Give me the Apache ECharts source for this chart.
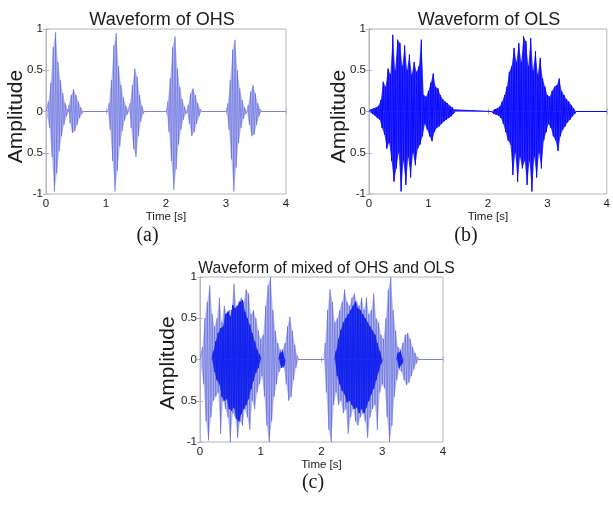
<!DOCTYPE html>
<html>
<head>
<meta charset="utf-8">
<script src="https://cdn.jsdelivr.net/npm/echarts@6/dist/echarts.min.js"></script>
<style>
  html, body { margin: 0; padding: 0; background: #fff; }
  #chart { width: 613px; height: 505px; }
</style>
</head>
<body>
<div id="chart"></div>
<script>
// sample step of the typed waveforms (s)
const DT = 0.02;
const xTicks = [0, 1, 2, 3, 4];
const yTicks = [-1, -0.5, 0, 0.5, 1];

// (a) heart sound, S1 / S2 bursts
const ohsStarts = [0.02, 0.36, 1.03, 1.38, 2.01, 2.35, 3.01, 3.35];
const ohsS1a = [0, 0.12, -0.2, 0.35, -0.55, 0.78, -0.97, 0.96, -0.75, 0.6, -0.48, 0.38, -0.3, 0.22, -0.16, 0.1, -0.06, 0.03, 0];
const ohsS2a = [0, 0.08, -0.14, 0.2, -0.26, 0.27, -0.24, 0.2, -0.16, 0.12, -0.08, 0.05, -0.03, 0];
const ohsS1b = [0, 0.1, -0.22, 0.38, -0.6, 0.8, -0.97, 0.95, -0.72, 0.55, -0.42, 0.32, -0.24, 0.17, -0.11, 0.07, -0.04, 0.02, 0];
const ohsS2b = [0, 0.1, -0.2, 0.32, -0.45, 0.52, -0.55, 0.42, -0.3, 0.2, -0.12, 0.07, -0.03, 0];
const ohsS1c = [0, 0.12, -0.25, 0.4, -0.6, 0.78, -0.95, 0.91, -0.7, 0.52, -0.4, 0.3, -0.22, 0.15, -0.1, 0.06, -0.03, 0];
const ohsS2c = [0, 0.08, -0.15, 0.22, -0.3, 0.28, -0.25, 0.2, -0.15, 0.1, -0.06, 0.03, 0];
const ohsS1d = [0, 0.1, -0.22, 0.38, -0.58, 0.75, -0.97, 0.87, -0.68, 0.5, -0.38, 0.28, -0.2, 0.14, -0.09, 0.05, -0.03, 0];
const ohsS2d = [0, 0.08, -0.16, 0.24, -0.3, 0.32, -0.28, 0.22, -0.16, 0.1, -0.06, 0.03, 0];

// (b) lung sound, two breaths
const olsStarts = [0.02, 2.06];
const olsBreath1 = [0, 0.03, -0.03, 0.04, -0.05, 0.05, -0.08, 0.07, -0.1, 0.14, -0.2, 0.36, -0.28, 0.3, -0.45, 0.52,
  -0.38, 0.45, -0.6, 0.93, -0.85, 0.5, -0.69, 0.87, -0.5, 0.83, -0.97, 0.55, -0.6, 0.8, -0.89, 0.5, -0.55, 0.69,
  -0.8, 0.45, -0.5, 0.6, -0.65, 0.48, -0.45, 0.55, -0.4, 0.87, -0.3, 0.2, -0.15, 0.18, -0.22, 0.25, -0.3, 0.35,
  -0.36, 0.46, -0.25, 0.3, -0.2, 0.28, -0.18, 0.2, -0.15, 0.15, -0.12, 0.12, -0.1, 0.1, -0.08, 0.07, -0.06, 0.05,
  -0.03, 0.02, 0];
const olsBreath2 = [0, 0.02, -0.03, 0.03, -0.04, 0.04, -0.05, 0.06, -0.08, 0.12, -0.15, 0.2, -0.25, 0.3, -0.35, 0.48,
  -0.4, 0.55, -0.77, 0.77, -0.5, 0.6, -0.85, 0.83, -0.55, 0.6, -0.69, 0.91, -0.6, 0.85, -0.89, 0.55, -0.6, 0.89,
  -0.97, 0.5, -0.55, 0.73, -0.8, 0.45, -0.5, 0.65, -0.69, 0.4, -0.35, 0.3, -0.25, 0.2, -0.15, 0.18, -0.2, 0.25,
  -0.3, 0.3, -0.35, 0.32, -0.48, 0.4, -0.3, 0.25, -0.22, 0.2, -0.18, 0.15, -0.13, 0.12, -0.1, 0.08, -0.06, 0.04,
  -0.03, 0];

// (c) mixed signal: full trace and its dense lung core
const mixStarts = [0.02, 2.04];
const mixPart1 = [0, 0.15, -0.3, 0.5, -0.75, 0.7, -0.98, 0.9, -0.7, 0.55, -0.5, 0.4, -0.45, 0.5, -0.4, 0.75, -0.9,
  0.45, -0.5, 0.65, -0.6, 0.55, -0.7, 0.6, -1.0, 0.6, -0.65, 0.92, -0.7, 0.65, -0.95, 0.7, -0.75, 0.75, -0.8, 0.7,
  -0.6, 0.85, -0.7, 0.8, -0.85, 0.55, -0.5, 0.6, -0.6, 0.5, -0.4, 0.35, -0.3, 0.25, -0.2, 0.3, -0.45, 0.65, -0.8,
  0.9, -1.0, 1.0, -0.75, 0.6, -0.45, 0.35, -0.3, 0.2, -0.15, 0.12, -0.1, 0.12, -0.1, 0.2, -0.3, 0.4, -0.5, 0.52,
  -0.45, 0.35, -0.25, 0.18, -0.1, 0.05, 0];
const mixPart2 = [0, 0.2, -0.4, 0.6, -0.85, 0.85, -1.0, 0.7, -0.55, 0.45, -0.4, 0.5, -0.55, 0.6, -0.5, 0.7, -0.65,
  0.85, -0.6, 0.7, -0.9, 0.65, -0.7, 0.75, -0.6, 0.8, -0.75, 0.7, -0.8, 0.65, -0.7, 0.75, -0.65, 0.6, -0.75, 0.75,
  -0.95, 0.55, -0.7, 0.6, -0.6, 0.8, -0.55, 0.5, -0.85, 0.45, -0.4, 0.3, -0.3, 0.25, -0.35, 0.5, -0.7, 0.85, -1.0,
  1.0, -0.8, 0.6, -0.45, 0.35, -0.25, 0.15, -0.12, 0.12, -0.15, 0.2, -0.25, 0.3, -0.31, 0.32, -0.28, 0.25, -0.2,
  0.15, -0.12, 0.08, -0.05, 0.03, 0];
const coreStarts = [0.2, 1.3, 2.22, 3.24];
const core1 = [0, 0.1, -0.15, 0.22, -0.25, 0.32, -0.3, 0.38, -0.45, 0.4, -0.5, 0.55, -0.48, 0.58, -0.6, 0.52, -0.62,
  0.66, -0.58, 0.62, -0.72, 0.65, -0.75, 0.7, -0.66, 0.72, -0.6, 0.58, -0.55, 0.5, -0.48, 0.42, -0.36, 0.32, -0.26,
  0.22, -0.16, 0.12, -0.1, 0.06, 0];
const core2 = [0, 0.08, -0.1, 0.1, -0.08, 0];
const core3 = [0, 0.1, -0.2, 0.25, -0.3, 0.36, -0.38, 0.45, -0.42, 0.5, -0.52, 0.55, -0.5, 0.6, -0.55, 0.65, -0.6,
  0.7, -0.58, 0.62, -0.65, 0.6, -0.6, 0.55, -0.65, 0.5, -0.58, 0.45, -0.5, 0.4, -0.42, 0.35, -0.35, 0.3, -0.25,
  0.2, -0.15, 0.1, -0.05, 0];
const core4 = [0, 0.08, -0.1, 0.1, -0.06, 0];

function trace(starts, parts, joined) {
  const out = joined ? [[0, 0]] : [];
  parts.forEach(function (vals, k) {
    vals.forEach(function (v, i) { out.push([starts[k] + i * DT, v]); });
    if (!joined) out.push([starts[k] + vals.length * DT, null]);
  });
  if (joined) out.push([4, 0]);
  return out;
}

// upper (sign 1) or lower (sign -1) envelope: only the samples on that side of zero
function envelope(data, sign) {
  return data.filter(function (p) { return p[1] === null || p[1] * sign >= 0; });
}

const ohsData = trace(ohsStarts, [ohsS1a, ohsS2a, ohsS1b, ohsS2b, ohsS1c, ohsS2c, ohsS1d, ohsS2d], true);
const olsData = trace(olsStarts, [olsBreath1, olsBreath2], true);
const mixData = trace(mixStarts, [mixPart1, mixPart2], true);
const coreData = trace(coreStarts, [core1, core2, core3, core4], false);

const frame = '#b4b6c4';
const txt = '#1a1a1a';
const font = 'Liberation Sans, Arial, sans-serif';

const grids = [
  { left: 46, top: 29, width: 240, height: 165 },
  { left: 369, top: 29, width: 240, height: 165 },
  { left: 200, top: 277, width: 243, height: 165 }
];

const xAxis = [], yAxis = [];
grids.forEach(function (g, i) {
  g.show = true;
  g.borderColor = frame;
  g.borderWidth = 1;
  xAxis.push({
    type: 'value', gridIndex: i, min: 0, max: 4, interval: 1,
    name: 'Time [s]', nameLocation: 'middle', nameGap: i === 2 ? 12 : 14,
    nameTextStyle: { fontFamily: font, fontSize: 11.5, color: txt },
    axisLine: { show: true, lineStyle: { color: frame } },
    axisTick: { inside: true, length: 3, lineStyle: { color: frame } },
    axisLabel: { fontFamily: font, fontSize: 11.5, color: txt, margin: 4 },
    splitLine: { show: false }
  });
  xAxis.push({
    type: 'value', gridIndex: i, position: 'top', min: 0, max: 4, interval: 1,
    axisLine: { show: true, lineStyle: { color: frame } },
    axisTick: { inside: true, length: 3, lineStyle: { color: frame } },
    axisLabel: { show: false }, splitLine: { show: false }
  });
  yAxis.push({
    type: 'value', gridIndex: i, min: -1, max: 1, interval: 0.5,
    axisLine: { show: true, lineStyle: { color: frame } },
    axisTick: { inside: true, length: 3, lineStyle: { color: frame } },
    axisLabel: {
      fontFamily: font, fontSize: 11.5, color: txt, margin: 3,
      formatter: function (v) { return v === -0.5 ? '0.5' : String(v); }
    },
    splitLine: { show: false }
  });
  yAxis.push({
    type: 'value', gridIndex: i, position: 'right', min: -1, max: 1, interval: 0.5,
    axisLine: { show: true, lineStyle: { color: frame } },
    axisTick: { inside: true, length: 3, lineStyle: { color: frame } },
    axisLabel: { show: false }, splitLine: { show: false }
  });
});

function wave(data, grid, color, width) {
  return {
    type: 'line', data: data, xAxisIndex: grid * 2, yAxisIndex: grid * 2,
    symbol: 'none', silent: true, connectNulls: false, z: 3,
    lineStyle: { color: color, width: width, join: 'bevel' }
  };
}

// filled envelope (from zero up to the peaks, and from zero down to the troughs)
function band(data, grid, color) {
  return [1, -1].map(function (s) {
    return {
      type: 'line', data: envelope(data, s), xAxisIndex: grid * 2, yAxisIndex: grid * 2,
      symbol: 'none', silent: true, connectNulls: false, z: 2,
      lineStyle: { width: 0 },
      areaStyle: { color: color, opacity: 1, origin: 0 }
    };
  });
}

function label(text, x, y, size, rot, family) {
  return {
    type: 'text', x: x, y: y, rotation: rot || 0,
    style: { text: text, fontSize: size, fontFamily: family || font, fill: txt,
      align: 'center', verticalAlign: 'middle' }
  };
}

const lightFill = '#b8bdef';
const lightLine = 'rgba(60,70,215,0.42)';
const serif = 'Liberation Serif, Times New Roman, serif';

const chart = echarts.init(document.getElementById('chart'), null, { renderer: 'canvas' });
chart.setOption({
  animation: false,
  backgroundColor: '#ffffff',
  graphic: [
    label('Waveform of OHS', 162, 20, 18),
    label('Waveform of OLS', 489, 20, 18),
    label('Waveform of mixed of OHS and OLS', 326.5, 268.5, 15.7),
    label('Amplitude', 16.5, 116.5, 21, Math.PI / 2),
    label('Amplitude', 339, 116.5, 21, Math.PI / 2),
    label('Amplitude', 168.5, 363, 21, Math.PI / 2),
    label('(a)', 147.5, 236, 20, 0, serif),
    label('(b)', 466, 236, 20, 0, serif),
    label('(c)', 313, 483, 20, 0, serif)
  ],
  grid: grids,
  xAxis: xAxis,
  yAxis: yAxis,
  series: [].concat(
    band(ohsData, 0, lightFill),
    [wave(ohsData, 0, lightLine, 1)],
    band(olsData, 1, '#3535ff'),
    [wave(olsData, 1, '#0a0aff', 1)],
    band(mixData, 2, lightFill),
    [wave(mixData, 2, lightLine, 1)],
    band(coreData, 2, '#2030f2'),
    [wave(coreData, 2, '#1020f0', 1)]
  )
});
</script>
</body>
</html>
